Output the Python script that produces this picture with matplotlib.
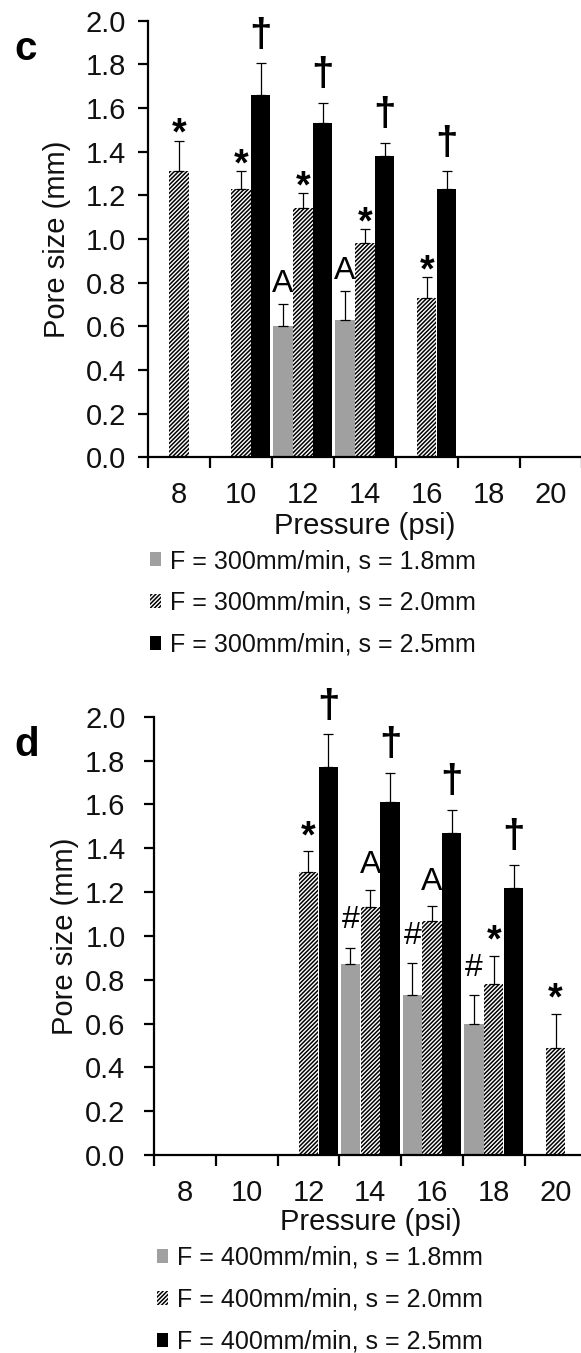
import numpy as np
import matplotlib
matplotlib.use("Agg")
import matplotlib.pyplot as plt
from matplotlib.patches import Patch

plt.rcParams['font.family'] = ['Liberation Sans', 'DejaVu Sans']
plt.rcParams['hatch.linewidth'] = 1.1

# ---------------- data ----------------
categories = ['8', '10', '12', '14', '16', '18', '20']
yticks = [0.0, 0.2, 0.4, 0.6, 0.8, 1.0, 1.2, 1.4, 1.6, 1.8, 2.0]
nan = np.nan

# panel c (F = 300 mm/min)
c_labels = ['F = 300mm/min, s = 1.8mm', 'F = 300mm/min, s = 2.0mm', 'F = 300mm/min, s = 2.5mm']
c_s18 = [nan, nan, 0.60, 0.63, nan, nan, nan]
c_s18_err = [nan, nan, 0.10, 0.13, nan, nan, nan]
c_s20 = [1.31, 1.23, 1.14, 0.98, 0.73, nan, nan]
c_s20_err = [0.14, 0.08, 0.07, 0.065, 0.095, nan, nan]
c_s25 = [nan, 1.66, 1.53, 1.38, 1.23, nan, nan]
c_s25_err = [nan, 0.145, 0.095, 0.06, 0.08, nan, nan]
c_s18_sig = ['', '', 'A', 'A', '', '', '']
c_s20_sig = ['*', '*', '*', '*', '*', '', '']
c_s25_sig = ['', '\u2020', '\u2020', '\u2020', '\u2020', '', '']

# panel d (F = 400 mm/min)
d_labels = ['F = 400mm/min, s = 1.8mm', 'F = 400mm/min, s = 2.0mm', 'F = 400mm/min, s = 2.5mm']
d_s18 = [nan, nan, nan, 0.87, 0.73, 0.60, nan]
d_s18_err = [nan, nan, nan, 0.075, 0.145, 0.13, nan]
d_s20 = [nan, nan, 1.29, 1.13, 1.07, 0.78, 0.49]
d_s20_err = [nan, nan, 0.095, 0.08, 0.065, 0.13, 0.155]
d_s25 = [nan, nan, 1.77, 1.61, 1.47, 1.22, nan]
d_s25_err = [nan, nan, 0.15, 0.135, 0.105, 0.105, nan]
d_s18_sig = ['', '', '', '#', '#', '#', '']
d_s20_sig = ['', '', '*', 'A', 'A', '*', '*']
d_s25_sig = ['', '', '\u2020', '\u2020', '\u2020', '\u2020', '']

# ---------------- style ----------------
W, H = 581, 1353
GREY = '#a0a0a0'
BW = 0.32
SPINE_W = 1.6

fig = plt.figure(figsize=(W / 100, H / 100), dpi=100)


def fx(px):
    return px / W


def fy(py):
    return 1 - py / H


sym_style = {
    '*': dict(fontsize=27, fontweight='bold'),
    '\u2020': dict(fontsize=29, fontweight='bold'),
    'A': dict(fontsize=23),
    '#': dict(fontsize=23),
}


def panel(rect, series, errs, sigs, labels, letter, letter_xy, ypad, offsets,
          xlabel_y, ylabel_x, legend_xy):
    ax = fig.add_axes(rect)
    x = np.arange(len(categories))
    styles = [dict(color=GREY, edgecolor='white', linewidth=0),
              dict(color='white', edgecolor='black', hatch='////////', linewidth=0),
              dict(color='black', edgecolor='black', linewidth=0)]
    handles = []
    for k, (vals, er, sg, st) in enumerate(zip(series, errs, sigs, styles)):
        vals = np.array(vals, dtype=float)
        er = np.array(er, dtype=float)
        xs = x + (k - 1) * BW
        ok = ~np.isnan(vals)
        ax.bar(xs[ok], vals[ok], BW * 0.97, zorder=2, **st)
        ax.errorbar(xs[ok], vals[ok], yerr=[np.zeros(ok.sum()), er[ok]],
                    fmt='none', ecolor='black', elinewidth=0.9, capsize=3.8,
                    capthick=0.9, zorder=3)
        for xi, v, e, s in zip(xs, vals, er, sg):
            if s and not np.isnan(v):
                ax.annotate(s, xy=(xi, v + e), xytext=(0, offsets[s]),
                            textcoords='offset points', ha='center',
                            va='baseline', color='black', **sym_style[s])
        handles.append(Patch(facecolor=st['color'], edgecolor=st['edgecolor'],
                             hatch=st.get('hatch'), linewidth=0))

    ax.set_xlim(-0.5, len(categories) - 0.5)
    ax.set_ylim(0, 2.0)
    ax.set_yticks(yticks)
    ax.set_yticklabels([f'{t:.1f}' for t in yticks])
    ax.set_xticks(np.arange(len(categories) + 1) - 0.5)
    ax.set_xticklabels([''] * (len(categories) + 1))
    ax.set_xticks(x, minor=True)
    ax.set_xticklabels(categories, minor=True)
    ax.tick_params(axis='x', which='major', direction='out', length=8,
                   width=SPINE_W, color='black')
    ax.tick_params(axis='x', which='minor', length=0, pad=ypad[0],
                   labelsize=21, labelcolor='#111111')
    ax.tick_params(axis='y', direction='out', length=7, width=SPINE_W,
                   pad=ypad[1], labelsize=21, labelcolor='#111111')
    for sp in ['top', 'right']:
        ax.spines[sp].set_visible(False)
    for sp in ['left', 'bottom']:
        ax.spines[sp].set_linewidth(SPINE_W)
        ax.spines[sp].set_color('black')
    ax.spines['bottom'].set_zorder(4)

    # axis titles
    x0 = rect[0] + rect[2] / 2
    fig.text(x0, fy(xlabel_y), 'Pressure (psi)', ha='center', va='center',
             fontsize=21, color='#111111')
    fig.text(fx(ylabel_x), rect[1] + rect[3] / 2, 'Pore size (mm)',
             rotation=90, ha='center', va='center', fontsize=21,
             color='#111111')
    fig.text(fx(letter_xy[0]), fy(letter_xy[1]), letter, ha='left',
             va='baseline', fontsize=29, fontweight='bold')

    fig.legend(handles, labels, loc='upper left',
               bbox_to_anchor=(fx(legend_xy[0]), fy(legend_xy[1])),
               frameon=False, fontsize=18, handlelength=0.45,
               handleheight=0.5, handletextpad=0.35, labelspacing=0.71,
               borderpad=0, borderaxespad=0, labelcolor='#111111')
    return ax


panel([fx(148), fy(457.3), 433.8 / W, 436.6 / H],
      [c_s18, c_s20, c_s25], [c_s18_err, c_s20_err, c_s25_err],
      [c_s18_sig, c_s20_sig, c_s25_sig], c_labels, 'c', (14, 60),
      (17, 9), {'*': -3, '\u2020': 12, 'A': 9, '#': 14},
      526, 57, (150, 549))

panel([fx(154), fy(1155), 432.5 / W, 438.3 / H],
      [d_s18, d_s20, d_s25], [d_s18_err, d_s20_err, d_s25_err],
      [d_s18_sig, d_s20_sig, d_s25_sig], d_labels, 'd', (14, 756),
      (17, 13.5), {'*': 3, '\u2020': 12, 'A': 12, '#': 14},
      1222.5, 65, (157, 1246))

fig.savefig('out.png', dpi=100)
